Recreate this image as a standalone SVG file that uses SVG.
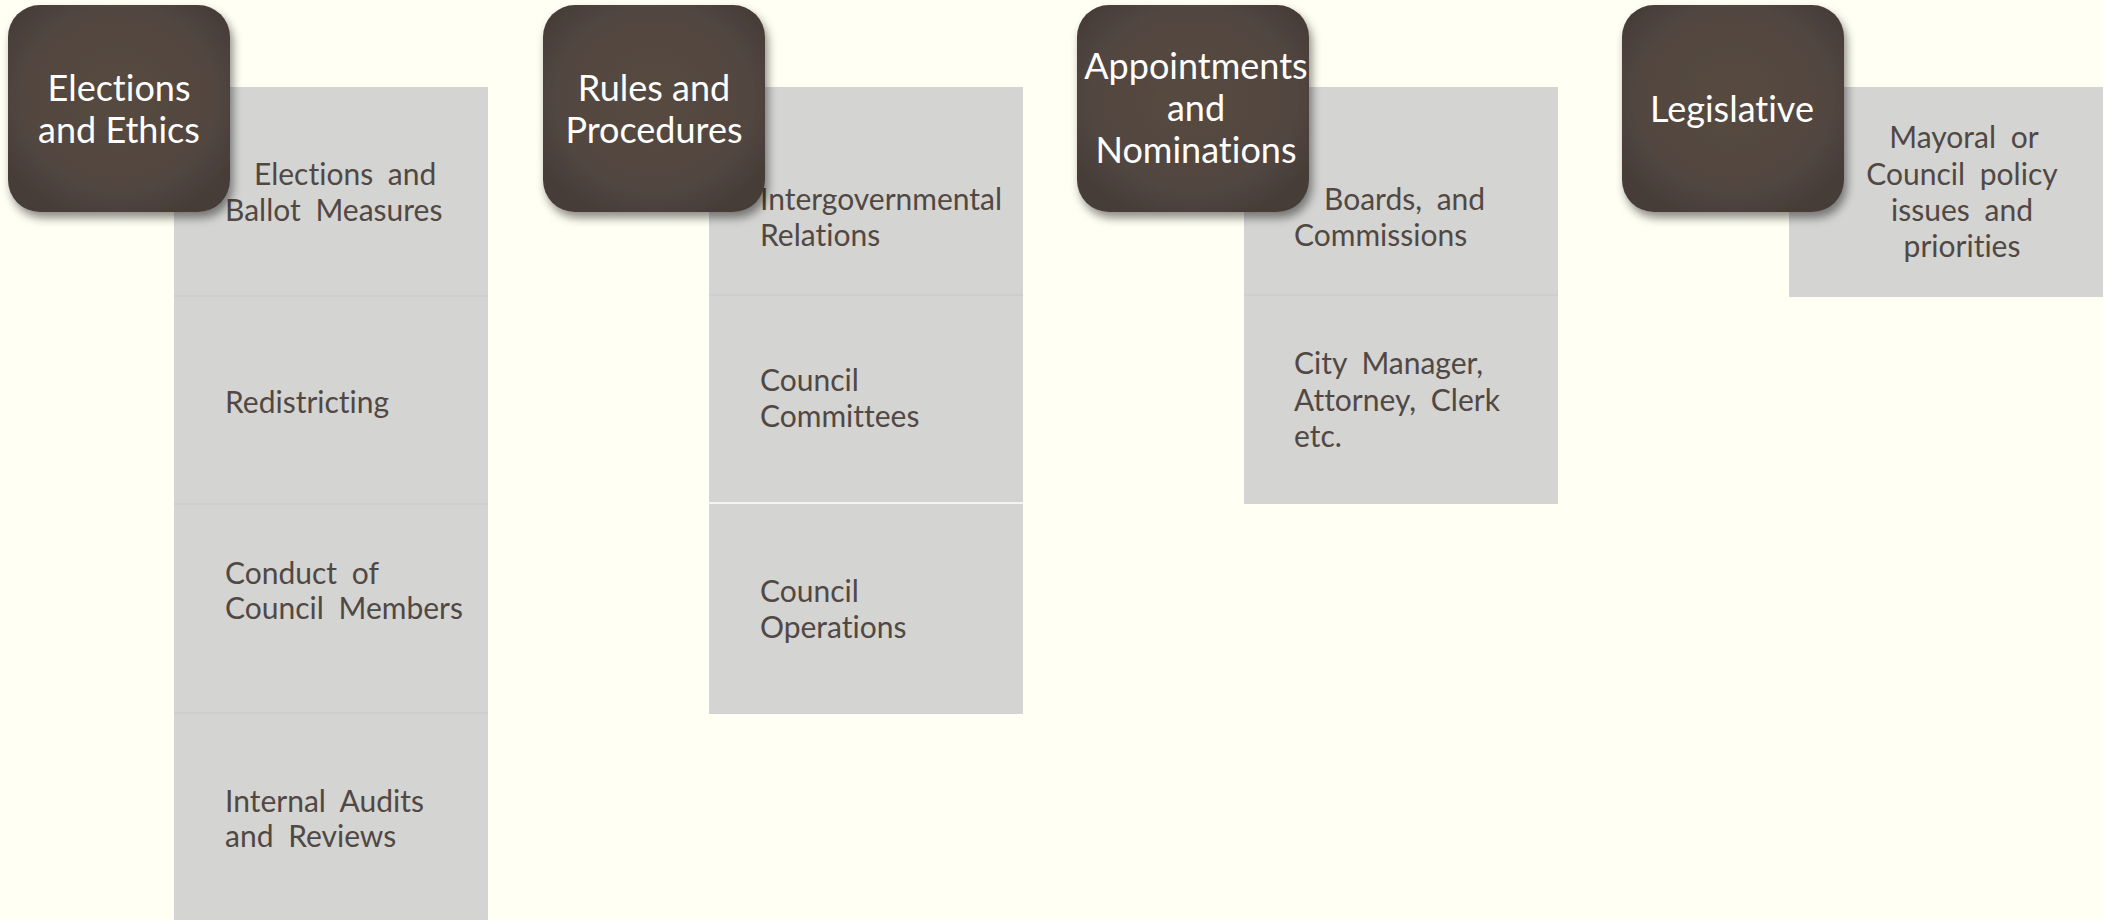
<svg xmlns="http://www.w3.org/2000/svg" width="2104" height="920" viewBox="0 0 2104 920">
<style>
.bg{fill:#fffff3}
.cell{fill:#d4d4d3}
.sep{stroke:#cdcdcc;stroke-width:1.5}
.sepw{stroke:#f4f4f0;stroke-width:2}
.head{fill:url(#hg);filter:url(#sh)}
.ht{font-family:Lato,"Liberation Sans",sans-serif;font-size:36px;fill:#ffffff;text-anchor:middle;font-variant-ligatures:none}
.ct{font-family:Lato,"Liberation Sans",sans-serif;font-size:30px;fill:#514843;word-spacing:7px;font-variant-ligatures:none}
.cc{text-anchor:middle}
</style>
<defs>
<radialGradient id="hg" cx="0.5" cy="0.45" r="0.6">
<stop offset="0" stop-color="#554940"/>
<stop offset="0.75" stop-color="#514640"/>
<stop offset="1" stop-color="#473d38"/>
</radialGradient>
<filter id="sh" x="-20%" y="-20%" width="150%" height="150%">
<feDropShadow dx="3" dy="6" stdDeviation="5" flood-color="#000" flood-opacity="0.45"/>
</filter>
</defs>
<rect class="bg" x="0" y="0" width="2104" height="920"/>
<g id="connectors"/>
<g id="elections-cells">
<rect class="cell" x="174" y="87" width="314" height="833"/>
<line class="sep" x1="174" y1="296" x2="488" y2="296"/>
<line class="sep" x1="174" y1="504" x2="488" y2="504"/>
<line class="sep" x1="174" y1="713" x2="488" y2="713"/>
<text class="ct"><tspan x="254" y="185">Elections and</tspan><tspan x="225" y="221">Ballot Measures</tspan></text>
<text class="ct" x="225" y="413">Redistricting</text>
<text class="ct"><tspan x="225" y="584">Conduct of</tspan><tspan x="225" y="619">Council Members</tspan></text>
<text class="ct"><tspan x="225" y="812">Internal Audits</tspan><tspan x="225" y="847">and Reviews</tspan></text>
</g>
<g id="rules-cells">
<rect class="cell" x="709" y="87" width="314" height="627"/>
<line class="sep" x1="709" y1="295" x2="1023" y2="295"/>
<line class="sepw" x1="709" y1="503" x2="1023" y2="503"/>
<text class="ct"><tspan x="760" y="210">Intergovernmental</tspan><tspan x="760" y="246">Relations</tspan></text>
<text class="ct"><tspan x="760" y="391">Council</tspan><tspan x="760" y="427">Committees</tspan></text>
<text class="ct"><tspan x="760" y="602">Council</tspan><tspan x="760" y="638">Operations</tspan></text>
</g>
<g id="appointments-cells">
<rect class="cell" x="1244" y="87" width="314" height="417"/>
<line class="sep" x1="1244" y1="295" x2="1558" y2="295"/>
<text class="ct"><tspan x="1324" y="210">Boards, and</tspan><tspan x="1294" y="246">Commissions</tspan></text>
<text class="ct"><tspan x="1294" y="374">City Manager,</tspan><tspan x="1294" y="411">Attorney, Clerk</tspan><tspan x="1294" y="447">etc.</tspan></text>
</g>
<g id="legislative-cells">
<rect class="cell" x="1789" y="87" width="314" height="210"/>
<text class="ct cc"><tspan x="1964" y="148">Mayoral or</tspan><tspan x="1962" y="185">Council policy</tspan><tspan x="1962" y="221">issues and</tspan><tspan x="1962" y="257">priorities</tspan></text>
</g>
<g id="elections-and-ethics">
<rect class="head" x="8" y="5" width="222" height="207" rx="32"/>
<text class="ht"><tspan x="119" y="101">Elections</tspan><tspan x="119" y="143">and Ethics</tspan></text>
</g>
<g id="rules-and-procedures">
<rect class="head" x="543" y="5" width="222" height="207" rx="32"/>
<text class="ht"><tspan x="654" y="101">Rules and</tspan><tspan x="654" y="143">Procedures</tspan></text>
</g>
<g id="appointments-and-nominations">
<rect class="head" x="1077" y="5" width="232" height="207" rx="32"/>
<text class="ht"><tspan x="1196" y="79">Appointments</tspan><tspan x="1196" y="121">and</tspan><tspan x="1196" y="163">Nominations</tspan></text>
</g>
<g id="legislative">
<rect class="head" x="1622" y="5" width="222" height="207" rx="32"/>
<text class="ht" x="1732" y="122">Legislative</text>
</g>
</svg>
